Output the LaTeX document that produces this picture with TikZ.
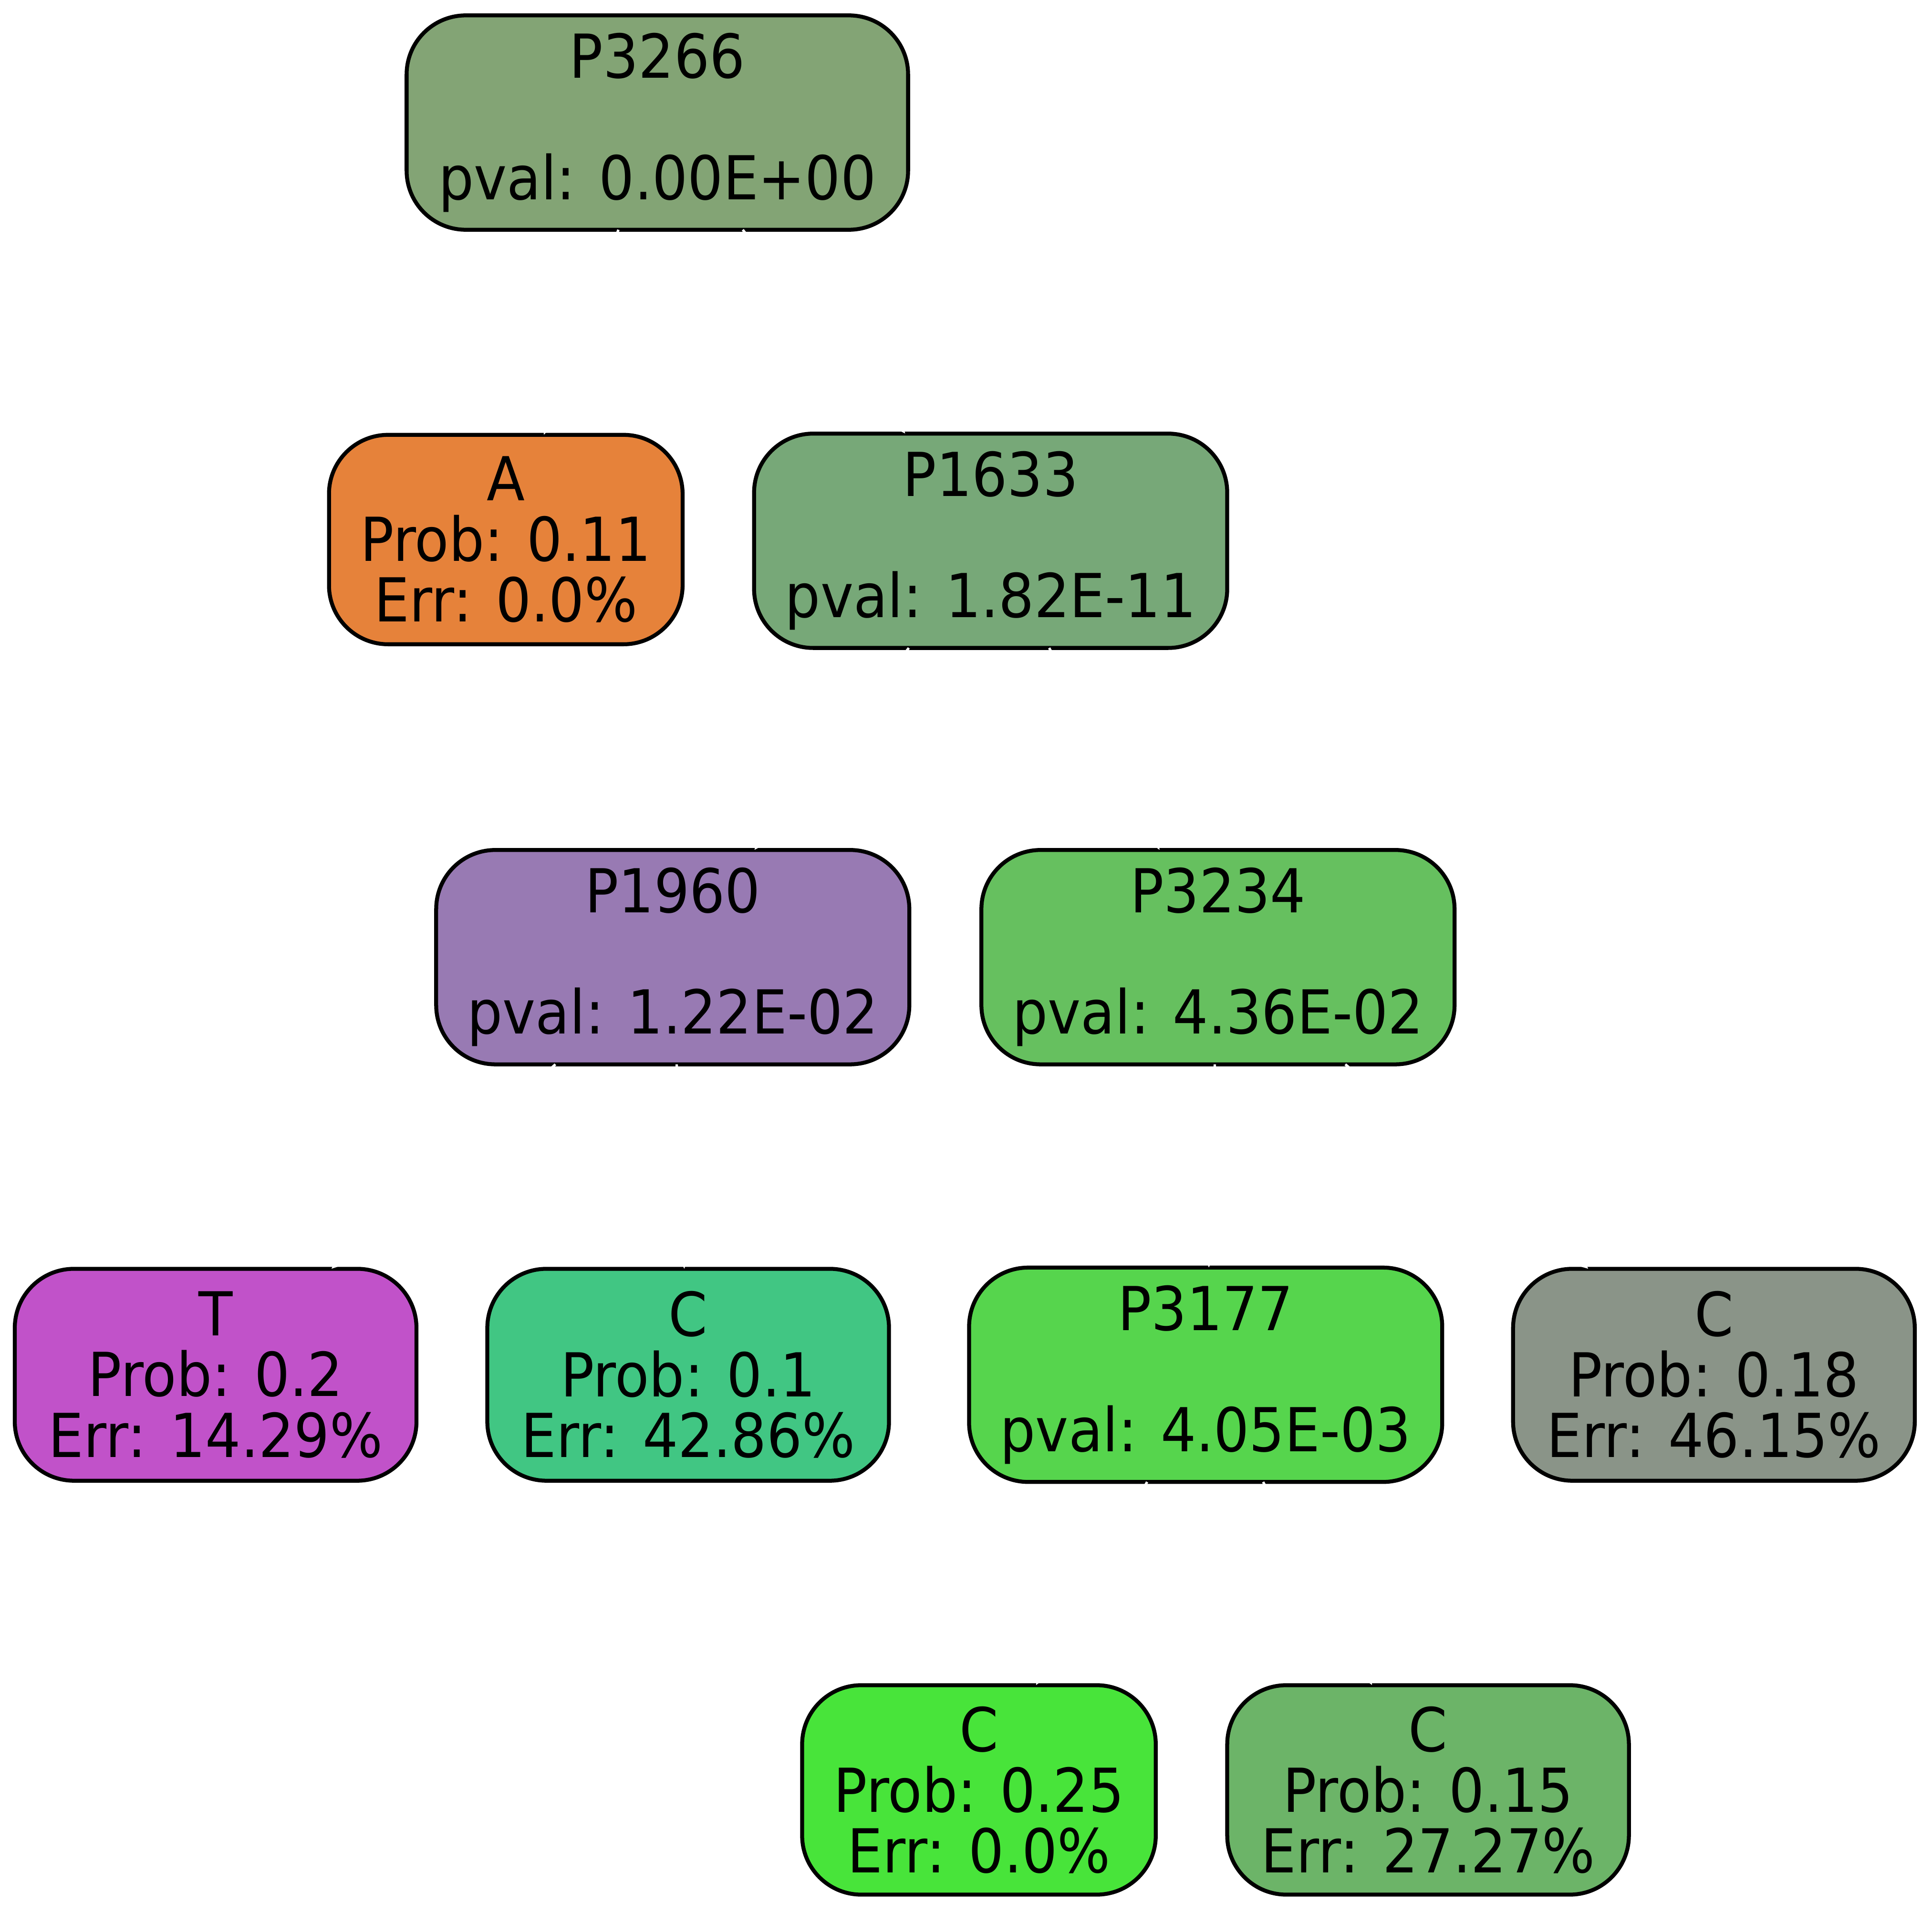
\documentclass[tikz,border=0pt]{standalone}
\usepackage{fontspec}
\setmainfont{DejaVu Sans}[FakeStretch=0.92]
\usetikzlibrary{arrows.meta}

\definecolor{colP3266}{HTML}{83A475}
\definecolor{colA}{HTML}{E6823A}
\definecolor{colP1633}{HTML}{77A878}
\definecolor{colP1960}{HTML}{987AB3}
\definecolor{colP3234}{HTML}{66C05F}
\definecolor{colT}{HTML}{C152C9}
\definecolor{colCa}{HTML}{41C683}
\definecolor{colP3177}{HTML}{56D54D}
\definecolor{colCb}{HTML}{8A9488}
\definecolor{colCc}{HTML}{48E43A}
\definecolor{colCd}{HTML}{6CB468}

\tikzset{
  box/.style={draw=black, line width=1.6pt, rounded corners=24pt, align=center,
    inner sep=0pt, outer sep=0pt, font=\fontsize{24.6}{24.6}\selectfont},
  split/.style={box, minimum width=192pt, minimum height=87pt},
  leaf/.style={box, minimum width=163pt, minimum height=86pt},
  edge/.style={white, line width=1pt, -{Triangle[length=7pt,width=6pt]}}
}

\begin{document}
\begin{tikzpicture}[x=0.5pt, y=-0.5pt]
  \useasboundingbox (0,0) rectangle (1568,1552);

  % splits
  \node[split, fill=colP3266, minimum width=203.5pt] (p3266) at (533.5,99.5) {P3266\\\mbox{}\\pval: 0.00E+00};
  \node[split, fill=colP1633] (p1633) at (804,439) {P1633\\\mbox{}\\pval: 1.82E-11};
  \node[split, fill=colP1960] (p1960) at (546,777) {P1960\\\mbox{}\\pval: 1.22E-02};
  \node[split, fill=colP3234] (p3234) at (988.5,777) {P3234\\\mbox{}\\pval: 4.36E-02};
  \node[split, fill=colP3177] (p3177) at (978.5,1116) {P3177\\\mbox{}\\pval: 4.05E-03};

  % leaves
  \node[leaf, fill=colA, minimum width=143.5pt, minimum height=85pt] (leafA) at (410.5,438) {A\\Prob: 0.11\\Err: 0.0\%};
  \node[leaf, fill=colT] (leafT) at (175,1116) {T\\Prob: 0.2\\Err: 14.29\%};
  \node[leaf, fill=colCa] (leafCa) at (558.5,1116) {C\\Prob: 0.1\\Err: 42.86\%};
  \node[leaf, fill=colCb] (leafCb) at (1391,1116) {C\\Prob: 0.18\\Err: 46.15\%};
  \node[leaf, fill=colCc, minimum width=143.5pt, minimum height=85pt] (leafCc) at (794.5,1453) {C\\Prob: 0.25\\Err: 0.0\%};
  \node[leaf, fill=colCd, minimum height=85pt] (leafCd) at (1159,1453) {C\\Prob: 0.15\\Err: 27.27\%};

  % edges
  \draw[edge] (p3266) -- (leafA);
  \draw[edge] (p3266) -- (p1633);
  \draw[edge] (p1633) -- (p1960);
  \draw[edge] (p1633) -- (p3234);
  \draw[edge] (p1960) -- (leafT);
  \draw[edge] (p1960) -- (leafCa);
  \draw[edge] (p3234) -- (p3177);
  \draw[edge] (p3234) -- (leafCb);
  \draw[edge] (p3177) -- (leafCc);
  \draw[edge] (p3177) -- (leafCd);
\end{tikzpicture}
\end{document}
